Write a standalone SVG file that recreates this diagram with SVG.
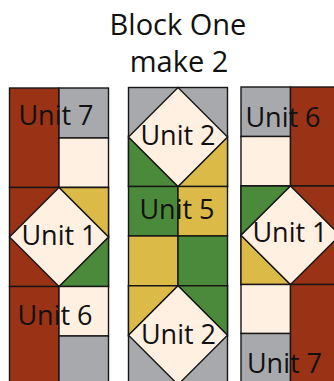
<svg xmlns="http://www.w3.org/2000/svg" width="334" height="381" viewBox="0 0 334 381">
<style>
.r{fill:#9a3216}.g{fill:#a7a9ac}.c{fill:#fff0e1}.y{fill:#dbba48}.v{fill:#4c8a3b}
.s{stroke:#161616;stroke-width:1.4;stroke-linejoin:miter}
.t{font-family:"Open Sans","Liberation Sans",sans-serif;font-size:27px;fill:#111;text-anchor:middle}
.h{font-family:"Open Sans","Liberation Sans",sans-serif;font-size:29px;fill:#111;text-anchor:middle}
</style>
<rect width="334" height="381" fill="#fff"/>
<g id="title">
<text class="h" x="178" y="35">Block One</text>
<text class="h" x="179" y="72">make 2</text>
</g>
<!-- Left column -->
<g id="left-unit7">
<rect class="r s" x="9.5" y="88" width="49.5" height="99.5"/>
<rect class="g s" x="59" y="88" width="49.5" height="50"/>
<rect class="c s" x="59" y="138" width="49.5" height="49.5"/>
<text class="t" x="56" y="125">Unit 7</text>
</g>
<g id="left-unit1">
<rect class="r s" x="9.5" y="187.5" width="99" height="99"/>
<polygon class="y s" points="59,187.5 108.5,187.5 108.5,237"/>
<polygon class="v s" points="108.5,237 108.5,286.5 59,286.5"/>
<polygon class="c s" points="59,187.5 108.5,237 59,286.5 9.5,237"/>
<text class="t" x="59" y="245">Unit 1</text>
</g>
<g id="left-unit6">
<rect class="r s" x="9.5" y="286.5" width="49.5" height="99"/>
<rect class="c s" x="59" y="286.5" width="49.5" height="49.5"/>
<rect class="g s" x="59" y="336" width="49.5" height="49.5"/>
<text class="t" x="55" y="325">Unit 6</text>
</g>
<!-- Middle column -->
<g id="mid-unit2-top">
<rect class="g s" x="128.5" y="87.5" width="99" height="99"/>
<polygon class="v s" points="128.5,137 178,186.5 128.5,186.5"/>
<polygon class="y s" points="227.5,137 227.5,186.5 178,186.5"/>
<polygon class="c s" points="178,87.5 227.5,137 178,186.5 128.5,137"/>
<text class="t" x="178" y="145">Unit 2</text>
</g>
<g id="mid-unit5">
<rect class="v s" x="128.5" y="186.5" width="49.5" height="49.5"/>
<rect class="y s" x="178" y="186.5" width="49.5" height="49.5"/>
<rect class="y s" x="128.5" y="236" width="49.5" height="49.7"/>
<rect class="v s" x="178" y="236" width="49.5" height="49.7"/>
<text class="t" x="177" y="219">Unit 5</text>
</g>
<g id="mid-unit2-bottom">
<rect class="g s" x="128.5" y="285.7" width="99" height="99"/>
<polygon class="y s" points="128.5,285.7 178,285.7 128.5,335.2"/>
<polygon class="v s" points="178,285.7 227.5,285.7 227.5,335.2"/>
<polygon class="c s" points="178,285.7 227.5,335.2 178,384.7 128.5,335.2"/>
<text class="t" x="178.5" y="344">Unit 2</text>
</g>
<!-- Right column -->
<g id="right-unit6">
<rect class="g s" x="241" y="87" width="49.5" height="49.5"/>
<rect class="c s" x="241" y="136.5" width="49.5" height="49.5"/>
<rect class="r s" x="290.5" y="87" width="49.5" height="99"/>
<text class="t" x="283" y="127">Unit 6</text>
</g>
<g id="right-unit1">
<rect class="r s" x="241" y="186" width="99" height="98.5"/>
<polygon class="v s" points="241,186 290.5,186 241,235.3"/>
<polygon class="y s" points="241,235.3 290.5,284.5 241,284.5"/>
<polygon class="c s" points="290.5,186 340,235.3 290.5,284.5 241,235.3"/>
<text class="t" x="290" y="242">Unit 1</text>
</g>
<g id="right-unit7">
<rect class="c s" x="241" y="284.5" width="49.5" height="49"/>
<rect class="g s" x="241" y="333.5" width="49.5" height="50"/>
<rect class="r s" x="290.5" y="284.5" width="49.5" height="99"/>
<text class="t" x="284.5" y="373">Unit 7</text>
</g>
<g id="connectors"></g>
</svg>
